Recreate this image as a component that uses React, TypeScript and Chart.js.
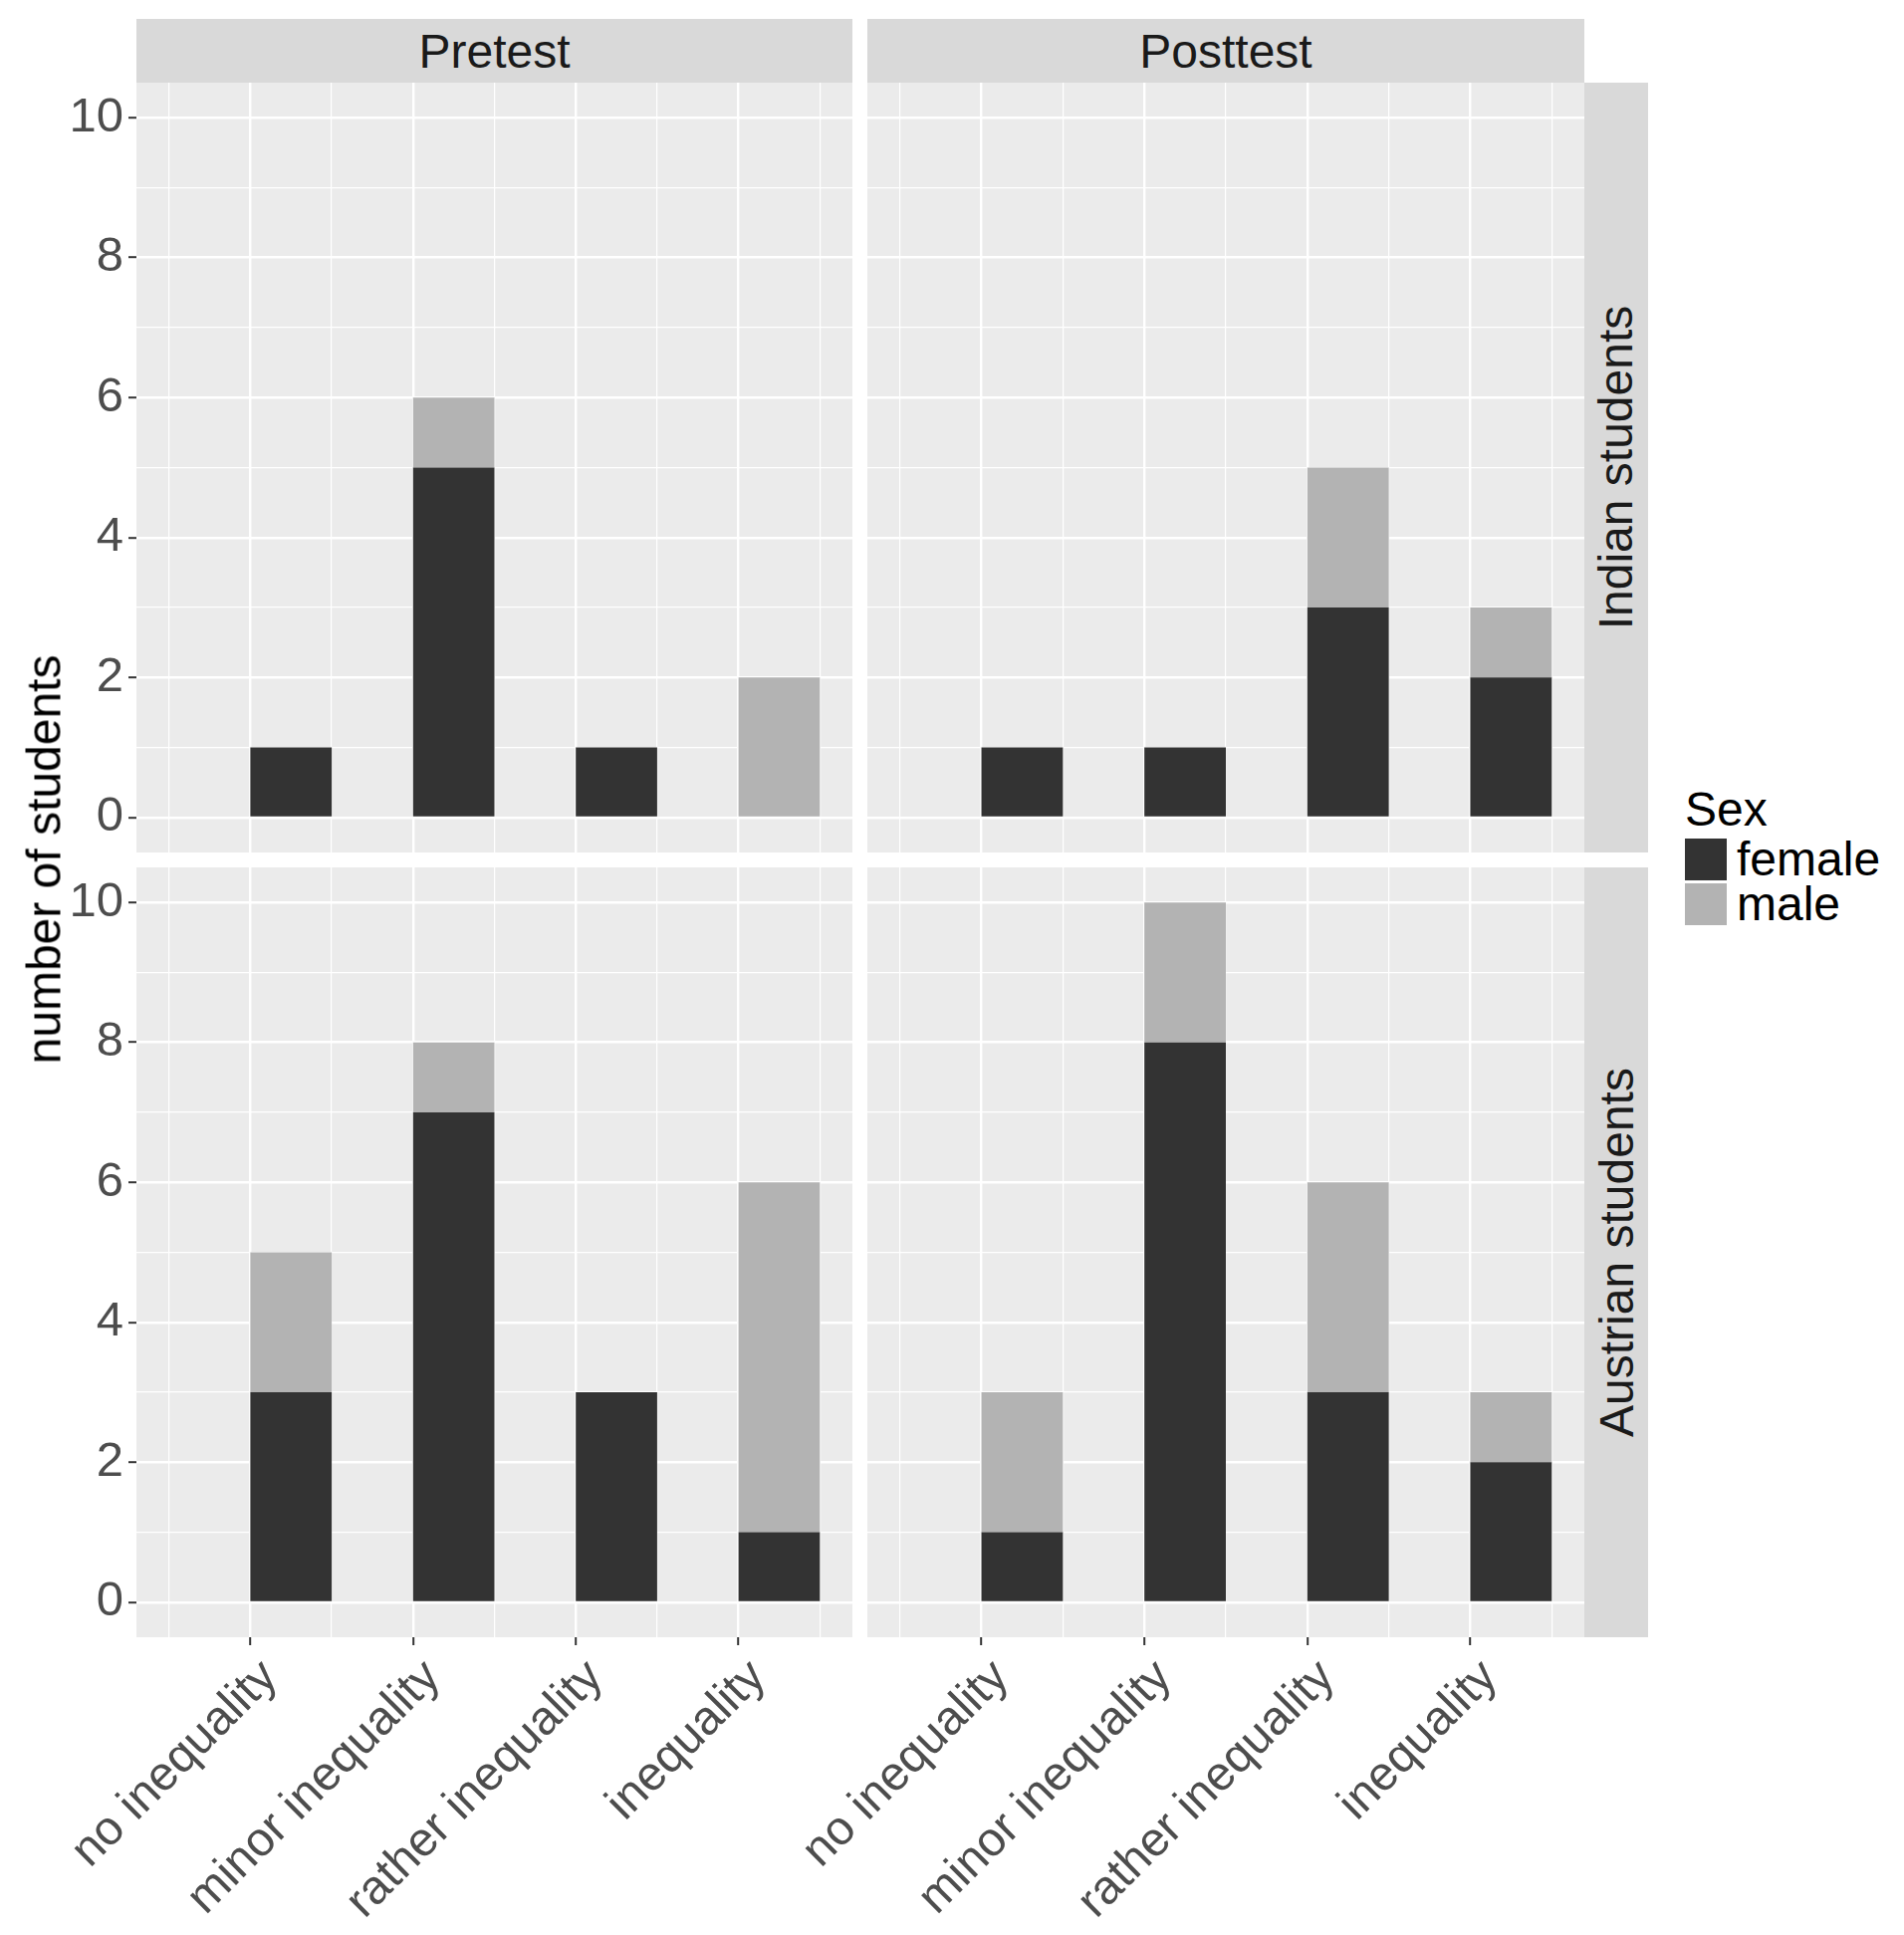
import { useEffect, useRef } from "react";
import { Chart, ChartConfiguration, Plugin, registerables } from "chart.js";

Chart.register(...registerables);

const categories = ["no inequality", "minor inequality", "rather inequality", "inequality"];
const yTickLabels = [0, 2, 4, 6, 8, 10];

const indianPretestFemale = [1, 5, 1, 0];
const indianPretestMale = [0, 1, 0, 2];
const indianPosttestFemale = [1, 1, 3, 2];
const indianPosttestMale = [0, 0, 2, 1];
const austrianPretestFemale = [3, 7, 3, 1];
const austrianPretestMale = [2, 1, 0, 5];
const austrianPosttestFemale = [1, 8, 3, 2];
const austrianPosttestMale = [2, 2, 3, 1];

const FONT = '"Liberation Sans", Arial, sans-serif';
const FEMALE = "#333333";
const MALE = "#B3B3B3";
const TEXT_SIZE = 48;

Chart.defaults.font.family = FONT;

// major ticks plus the half-step minor grid lines
const xTickValues = [0.5, ...categories.flatMap((_, i) => [i + 1, i + 1.5])];
const yTickValues = yTickLabels.flatMap((v, i) => (i === 0 ? [v] : [v - 1, v]));

const panelBackground: Plugin<"bar"> = {
  id: "panelBackground",
  beforeDraw(chart) {
    const { ctx, chartArea: a } = chart;
    ctx.save();
    ctx.fillStyle = "#EBEBEB";
    ctx.fillRect(a.left, a.top, a.right - a.left, a.bottom - a.top);
    ctx.restore();
  },
};

interface PanelProps {
  female: number[];
  male: number[];
  left: number;
  top: number;
  width: number;
  height: number;
  yAxisWidth: number;
  xAxisHeight: number;
  showY: boolean;
  showX: boolean;
}

function Panel({ female, male, left, top, width, height, yAxisWidth, xAxisHeight, showY, showX }: PanelProps) {
  const canvasRef = useRef<HTMLCanvasElement>(null);

  useEffect(() => {
    if (!canvasRef.current) return;
    const isMajorX = (c: any) => !!c.tick && Number.isInteger(c.tick.value);
    const isMajorY = (c: any) => !!c.tick && yTickLabels.includes(c.tick.value);

    const bar = {
      borderWidth: 0,
      inflateAmount: 0,
      barPercentage: 1,
      categoryPercentage: 1,
    };

    const config: ChartConfiguration<"bar"> = {
      type: "bar",
      data: {
        datasets: [
          {
            ...bar,
            label: "female",
            // bars sit right of the category tick (dodged with an empty group)
            data: female.map((y, i) => ({ x: i + 1.25, y })),
            backgroundColor: FEMALE,
          },
          {
            ...bar,
            label: "male",
            data: male.map((y, i) => ({ x: i + 1.25, y })),
            backgroundColor: MALE,
          },
        ],
      },
      options: {
        animation: false,
        responsive: false,
        devicePixelRatio: 1,
        events: [],
        layout: { padding: 0 },
        plugins: { legend: { display: false }, tooltip: { enabled: false } },
        scales: {
          x: {
            type: "linear",
            min: 0.3,
            max: 4.7,
            offset: false,
            stacked: true,
            afterBuildTicks: (s: any) => {
              s.ticks = xTickValues.map((value) => ({ value }));
            },
            afterFit: (s: any) => {
              s.height = xAxisHeight;
              s.paddingLeft = 0;
              s.paddingRight = 0;
            },
            border: { display: false },
            grid: {
              color: "#FFFFFF",
              offset: false,
              lineWidth: (c: any) => (isMajorX(c) ? 2.4 : 1.2),
              drawTicks: showX,
              tickLength: 8,
              tickWidth: 2,
              tickColor: (c: any) => (isMajorX(c) ? "#333333" : "rgba(0,0,0,0)"),
            },
            ticks: {
              display: showX,
              autoSkip: false,
              minRotation: 45,
              maxRotation: 45,
              padding: 4,
              labelOffset: 20,
              color: "#4D4D4D",
              font: { size: 48 },
              callback: (v: any) => (Number.isInteger(v) ? categories[v - 1] : ""),
            },
          },
          y: {
            type: "linear",
            min: -0.5,
            max: 10.5,
            stacked: true,
            afterBuildTicks: (s: any) => {
              s.ticks = yTickValues.map((value) => ({ value }));
            },
            afterFit: (s: any) => {
              s.width = yAxisWidth;
              s.paddingTop = 0;
              s.paddingBottom = 0;
            },
            border: { display: false },
            grid: {
              color: "#FFFFFF",
              lineWidth: (c: any) => (isMajorY(c) ? 2.4 : 1.2),
              drawTicks: showY,
              tickLength: 8,
              tickWidth: 2,
              tickColor: (c: any) => (isMajorY(c) ? "#333333" : "rgba(0,0,0,0)"),
            },
            ticks: {
              display: showY,
              autoSkip: false,
              padding: 5,
              color: "#4D4D4D",
              font: { size: 49 },
              callback: (v: any) => (yTickLabels.includes(v) ? String(v) : ""),
            },
          },
        },
      },
      plugins: [panelBackground],
    };

    const chart = new Chart(canvasRef.current, config);
    return () => chart.destroy();
  }, [female, male, yAxisWidth, xAxisHeight, showX, showY]);

  return (
    <canvas
      ref={canvasRef}
      width={width}
      height={height}
      style={{ position: "absolute", left, top, width, height }}
    />
  );
}

const stripStyle: React.CSSProperties = {
  position: "absolute",
  background: "#D9D9D9",
  display: "flex",
  alignItems: "center",
  justifyContent: "center",
  color: "#1A1A1A",
  fontSize: TEXT_SIZE,
  whiteSpace: "nowrap",
};

const legendText: React.CSSProperties = {
  position: "absolute",
  fontSize: TEXT_SIZE,
  lineHeight: "48px",
  color: "#000000",
  whiteSpace: "nowrap",
};

export default function App() {
  useEffect(() => {
    document.body.style.margin = "0";
  }, []);

  return (
    <div style={{ position: "relative", width: 1912, height: 1943, fontFamily: FONT, background: "#FFFFFF" }}>
      <Panel female={indianPretestFemale} male={indianPretestMale}
        left={0} top={83} width={856} height={773} yAxisWidth={137} xAxisHeight={0} showY showX={false} />
      <Panel female={indianPosttestFemale} male={indianPosttestMale}
        left={871} top={83} width={720} height={773} yAxisWidth={0} xAxisHeight={0} showY={false} showX={false} />
      <Panel female={austrianPretestFemale} male={austrianPretestMale}
        left={0} top={871} width={856} height={1072} yAxisWidth={137} xAxisHeight={299} showY showX />
      <Panel female={austrianPosttestFemale} male={austrianPosttestMale}
        left={760} top={871} width={831} height={1072} yAxisWidth={111} xAxisHeight={299} showY={false} showX />

      <div style={{ ...stripStyle, left: 137, top: 19, width: 719, height: 64 }}>Pretest</div>
      <div style={{ ...stripStyle, left: 871, top: 19, width: 720, height: 64 }}>Posttest</div>
      <div style={{ ...stripStyle, left: 1591, top: 83, width: 64, height: 773 }}>
        <span style={{ transform: "rotate(-90deg)" }}>Indian students</span>
      </div>
      <div style={{ ...stripStyle, left: 1591, top: 871, width: 64, height: 773 }}>
        <span style={{ transform: "rotate(-90deg)" }}>Austrian students</span>
      </div>

      <div style={{ position: "absolute", left: 44, top: 863, transform: "translate(-50%, -50%) rotate(-90deg)",
        fontSize: TEXT_SIZE, color: "#000000", whiteSpace: "nowrap" }}>
        number of students
      </div>

      <div style={{ ...legendText, left: 1692, top: 789 }}>Sex</div>
      <div style={{ position: "absolute", left: 1692, top: 842, width: 42, height: 42, background: FEMALE }} />
      <div style={{ position: "absolute", left: 1692, top: 887, width: 42, height: 42, background: MALE }} />
      <div style={{ ...legendText, left: 1744, top: 839 }}>female</div>
      <div style={{ ...legendText, left: 1744, top: 884 }}>male</div>
    </div>
  );
}
